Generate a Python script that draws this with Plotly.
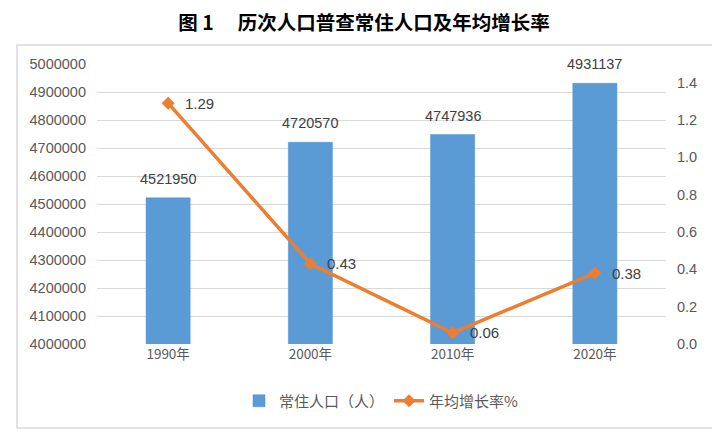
import plotly.graph_objects as go

years = ['1990年', '2000年', '2010年', '2020年']
population = [4521950, 4720570, 4747936, 4931137]
growth_rate = [1.29, 0.43, 0.06, 0.38]

bar_color = '#5B9BD5'
line_color = '#ED7D31'
text_color = '#595959'
font_cjk = 'Noto Sans CJK SC'
font_num = 'Liberation Sans'

# page body adds 8px, so the figure is 8px smaller than the window
W, H = 712, 433
L, R, T, B = 89, 54, 56, 97
pw, ph = W - L - R, H - T - B

fig = go.Figure()

# population bars
fig.add_trace(go.Bar(x=years, y=population, name='常住人口（人）',
                     marker=dict(color=bar_color, line=dict(color='#4F8FCB', width=0.5)),
                     width=0.31))

# annual growth rate line
fig.add_trace(go.Scatter(x=years, y=growth_rate, name='年均增长率%', yaxis='y2',
                         mode='lines+markers',
                         line=dict(color=line_color, width=3.5),
                         marker=dict(symbol='diamond', size=10, color=line_color),
                         cliponaxis=False))

# population labels above the bars
for yr, v in zip(years, population):
    fig.add_annotation(x=yr, y=v, xref='x', yref='y', text=str(v),
                       showarrow=False, xanchor='center', yanchor='middle', yshift=19,
                       font=dict(size=14.5, color='#404040', family=font_num))

# rate labels to the right of each point
for yr, v in zip(years, growth_rate):
    fig.add_annotation(x=yr, y=v, xref='x', yref='y2', text='{:.2f}'.format(v),
                       showarrow=False, xanchor='left', yanchor='middle', xshift=15,
                       font=dict(size=15, color='#404040', family=font_num))

fig.update_layout(
    width=W, height=H,
    paper_bgcolor='white', plot_bgcolor='white',
    margin=dict(l=L, r=R, t=T, b=B),
    font=dict(family=font_cjk, color=text_color, size=12),
    title=dict(text='<b>图 1　 历次人口普查常住人口及年均增长率</b>', x=0.5, xanchor='center',
               y=1 - 15 / H, yanchor='middle', font=dict(size=19.5, color='#000000', family=font_cjk)),
    xaxis=dict(showgrid=False, showline=False, ticks='',
               tickfont=dict(size=13.5, color=text_color, family=font_cjk)),
    yaxis=dict(range=[4000000, 5000000], dtick=100000, tickformat='d',
               showgrid=True, gridcolor='#D9D9D9', gridwidth=1, zeroline=False,
               tickfont=dict(size=14.5, color=text_color, family=font_num),
               ticklabelstandoff=10),
    yaxis2=dict(range=[0, 1.5], tickvals=[0, 0.2, 0.4, 0.6, 0.8, 1.0, 1.2, 1.4],
                tickformat='.1f', overlaying='y', side='right', showgrid=False,
                zeroline=False,
                tickfont=dict(size=14.5, color=text_color, family=font_num),
                ticklabelstandoff=10),
    legend=dict(orientation='h', x=0.5, xanchor='center', y=-57 / ph, yanchor='middle',
                font=dict(size=15, color=text_color, family=font_cjk),
                traceorder='normal'),
    bargap=0.6,
)

# outer chart frame
fig.add_shape(type='rect', xref='paper', yref='paper',
              x0=(9 - L) / pw, x1=(705 - L) / pw,
              y0=(T + ph - 420) / ph, y1=(T + ph - 37) / ph,
              line=dict(color='#D9D9D9', width=1.5), layer='below')

fig.write_html('out.html')
